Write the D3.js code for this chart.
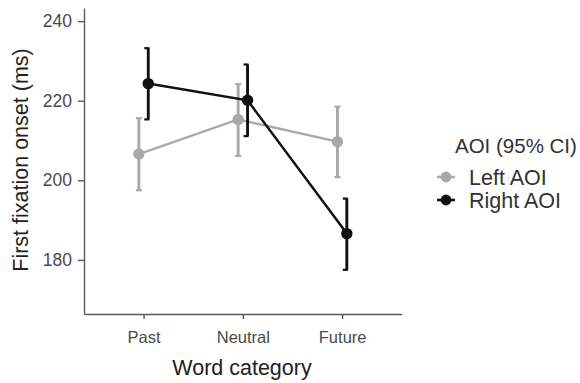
<!DOCTYPE html>
<html>
<head>
<meta charset="utf-8">
<script src="https://cdn.jsdelivr.net/npm/d3@7"></script>
<style>
  body { margin: 0; background: #fff; }
  svg { font-family: "Liberation Sans", Arial, sans-serif; }
</style>
</head>
<body>
<div class="chart"></div>
<script>
// data
var categories = ["Past", "Neutral", "Future"];
var seriesNames = ["Left AOI", "Right AOI"];
var leftMean  = [206.6, 215.3, 209.7];
var leftLow   = [197.5, 206.1, 200.8];
var leftHigh  = [215.6, 224.2, 218.5];
var rightMean = [224.3, 220.1, 186.6];
var rightLow  = [215.3, 211.1, 177.5];
var rightHigh = [233.2, 229.1, 195.4];
var yTicks = [180, 200, 220, 240];

var width = 580, height = 383;

var series = [
  {name: seriesNames[0], mean: leftMean, low: leftLow, high: leftHigh, color: "#a9a9a9", dodge: -4.7, capL: 3, capR: 3, lw: 2.4},
  {name: seriesNames[1], mean: rightMean, low: rightLow, high: rightHigh, color: "#111111", dodge: 4.7, capL: 4, capR: 1, lw: 2.5}
];

var svg = d3.select(".chart")
  .append("svg")
  .attr("width", width)
  .attr("height", height);

var x = d3.scalePoint()
  .domain(categories)
  .range([84, 401.7])
  .padding(0.6);

var y = d3.scaleLinear()
  .domain([166.4, 243.3])
  .range([314, 8]);

// axes
var xAxis = svg.append("g")
  .attr("transform", "translate(0,314)")
  .call(d3.axisBottom(x).tickSize(5).tickPadding(9).tickSizeOuter(0));

var yAxis = svg.append("g")
  .attr("transform", "translate(84,0)")
  .call(d3.axisLeft(y).tickValues(yTicks).tickSize(6).tickPadding(6).tickSizeOuter(0));

[xAxis, yAxis].forEach(function(a) {
  a.select(".domain").attr("stroke", "#5a5a5a").attr("stroke-width", 1.4);
  a.selectAll(".tick line").attr("stroke", "#5a5a5a").attr("stroke-width", 1.4);
  a.selectAll(".tick text")
    .attr("fill", "#4a4a4a")
    .style("font-size", "16.5px");
});

yAxis.selectAll(".tick text").style("font-size", "17.5px");
xAxis.selectAll(".tick text").attr("dy", "0.9em");

// axis titles
svg.append("text")
  .attr("x", 242)
  .attr("y", 375)
  .attr("text-anchor", "middle")
  .attr("fill", "#222")
  .style("font-size", "21.5px")
  .text("Word category");

svg.append("text")
  .attr("transform", "translate(28,160) rotate(-90)")
  .attr("text-anchor", "middle")
  .attr("fill", "#222")
  .style("font-size", "21.5px")
  .text("First fixation onset (ms)");

// lines, error bars and points
var line = d3.line()
  .x(function(d) { return d[0]; })
  .y(function(d) { return d[1]; });

series.forEach(function(s) {
  var g = svg.append("g");
  var pts = categories.map(function(c, i) { return [x(c) + s.dodge, y(s.mean[i])]; });

  g.append("path")
    .attr("d", line(pts))
    .attr("fill", "none")
    .attr("stroke", s.color)
    .attr("stroke-width", s.lw);

  categories.forEach(function(c, i) {
    var cx = x(c) + s.dodge;
    g.append("line")
      .attr("x1", cx).attr("x2", cx)
      .attr("y1", y(s.low[i])).attr("y2", y(s.high[i]))
      .attr("stroke", s.color).attr("stroke-width", 2.9);
    [s.low[i], s.high[i]].forEach(function(v) {
      g.append("line")
        .attr("x1", cx - s.capL).attr("x2", cx + s.capR)
        .attr("y1", y(v)).attr("y2", y(v))
        .attr("stroke", s.color).attr("stroke-width", 2.2);
    });
  });

  g.selectAll("circle")
    .data(pts)
    .enter().append("circle")
    .attr("cx", function(d) { return d[0]; })
    .attr("cy", function(d) { return d[1]; })
    .attr("r", 5.7)
    .attr("fill", s.color);
});

// legend
var legend = svg.append("g");

legend.append("text")
  .attr("x", 455)
  .attr("y", 153)
  .attr("fill", "#333")
  .style("font-size", "20.5px")
  .text("AOI (95% CI)");

series.forEach(function(s, i) {
  var ly = 177 + i * 23;
  legend.append("line")
    .attr("x1", 437).attr("x2", 455)
    .attr("y1", ly).attr("y2", ly)
    .attr("stroke", s.color).attr("stroke-width", 2.6);
  legend.append("circle")
    .attr("cx", 446).attr("cy", ly)
    .attr("r", 5.4)
    .attr("fill", s.color);
  legend.append("text")
    .attr("x", 469)
    .attr("y", ly + 7.5)
    .attr("fill", "#333")
    .style("font-size", "21.5px")
    .text(s.name);
});
</script>
</body>
</html>
